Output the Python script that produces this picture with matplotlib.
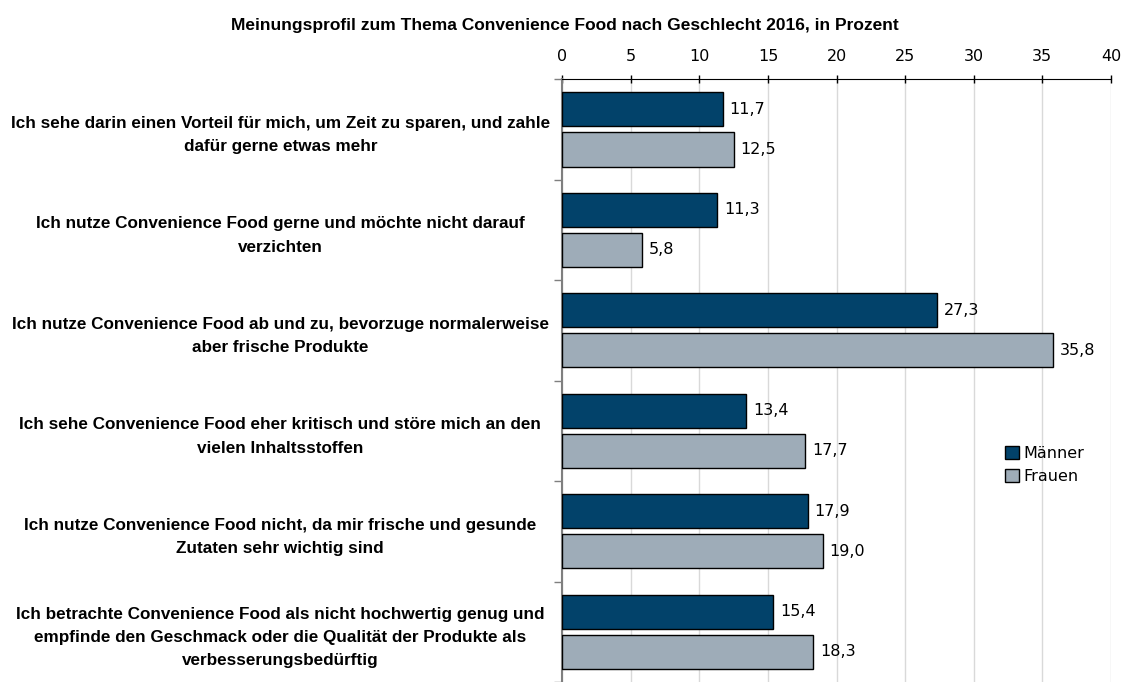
import matplotlib.pyplot as plt
import numpy as np

categories = [
    "Ich sehe darin einen Vorteil für mich, um Zeit zu sparen, und zahle\ndafür gerne etwas mehr",
    "Ich nutze Convenience Food gerne und möchte nicht darauf\nverzichten",
    "Ich nutze Convenience Food ab und zu, bevorzuge normalerweise\naber frische Produkte",
    "Ich sehe Convenience Food eher kritisch und störe mich an den\nvielen Inhaltsstoffen",
    "Ich nutze Convenience Food nicht, da mir frische und gesunde\nZutaten sehr wichtig sind",
    "Ich betrachte Convenience Food als nicht hochwertig genug und\nempfinde den Geschmack oder die Qualität der Produkte als\nverbesserungsbedürftig",
]
maenner = [11.7, 11.3, 27.3, 13.4, 17.9, 15.4]
frauen = [12.5, 5.8, 35.8, 17.7, 19.0, 18.3]
series_names = ["Männer", "Frauen"]
xticks = [0, 5, 10, 15, 20, 25, 30, 35, 40]

num_font = "DejaVu Sans"

fig = plt.figure(figsize=(11.29, 6.82), dpi=100)
ax = fig.add_axes([0.498, 0.0, 0.486, 0.884])

y = np.arange(len(categories))
h = 0.34
ax.barh(y - 0.2, maenner, height=h, color="#02426a", edgecolor="black", linewidth=1, label=series_names[0], zorder=3)
ax.barh(y + 0.2, frauen, height=h, color="#9eacb8", edgecolor="black", linewidth=1, label=series_names[1], zorder=3)

for i in range(len(categories)):
    ax.text(maenner[i] + 0.5, y[i] - 0.2, f"{maenner[i]:.1f}".replace(".", ","), va="center", ha="left",
            fontsize=11.5, family=num_font)
    ax.text(frauen[i] + 0.5, y[i] + 0.2, f"{frauen[i]:.1f}".replace(".", ","), va="center", ha="left",
            fontsize=11.5, family=num_font)

ax.set_xlim(0, 40)
ax.set_ylim(len(categories) - 0.5, -0.5)
ax.xaxis.tick_top()
ax.set_xticks(xticks)
ax.set_xticklabels([str(t) for t in xticks], fontsize=11.5, family=num_font)
ax.tick_params(axis="x", direction="inout", length=6, width=1, pad=8)
ax.grid(axis="x", color="#d9d9d9", linewidth=1, zorder=0)

ax.set_yticks(y)
ax.set_yticklabels(categories, fontsize=12.3, fontweight="bold", ha="center", family="Liberation Sans",
                   linespacing=1.7)
ax.tick_params(axis="y", length=0, pad=203)
ax.set_yticks(np.arange(len(categories) + 1) - 0.5, minor=True)
ax.tick_params(axis="y", which="minor", length=6, color="#7f7f7f", width=1)

for s in ["right", "bottom"]:
    ax.spines[s].set_visible(False)
ax.spines["top"].set_color("black")
ax.spines["left"].set_color("#7f7f7f")
ax.spines["left"].set_linewidth(1.5)

leg = ax.legend(loc="center left", bbox_to_anchor=(0.78, 0.36), frameon=False,
                handlelength=0.9, handleheight=0.9, handletextpad=0.3, labelspacing=0.5,
                prop={"family": num_font, "size": 11.5})

fig.text(0.5, 0.962, "Meinungsprofil zum Thema Convenience Food nach Geschlecht 2016, in Prozent",
         ha="center", va="center", fontsize=12.5, fontweight="bold", family="Liberation Sans")

fig.savefig("out.png", dpi=100)
